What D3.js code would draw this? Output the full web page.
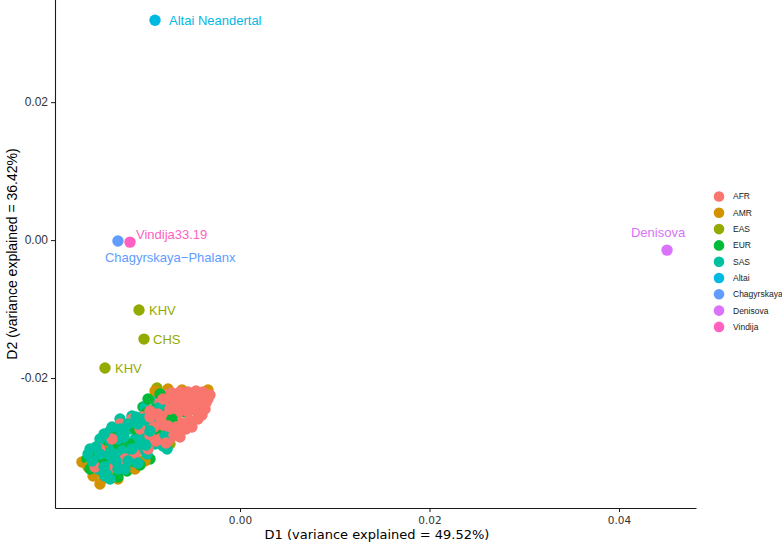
<!DOCTYPE html>
<html>
<head>
  <meta charset="utf-8">
  <title>MDS plot</title>
  <script src="https://d3js.org/d3.v7.min.js"></script>
  <style>
    body { margin: 0; background: #fff; }
    .axis path, .axis line { stroke: #1a1a1a; }
    .label { font-family: "Liberation Sans", Arial, sans-serif; font-size: 13px; }
    .legend text { font-family: "Liberation Sans", Arial, sans-serif; font-size: 8.5px; fill: #1a1a1a; }
  </style>
</head>
<body>
<div id="chart"></div>
<script>
  // groups and colours (ggplot default hues)
  var groups = ["AFR", "AMR", "EAS", "EUR", "SAS", "Altai", "Chagyrskaya", "Denisova", "Vindija"];
  var colors = ["#F8766D", "#D39200", "#93AA00", "#00BA38", "#00C19F", "#00B9E3", "#619CFF", "#DB72FB", "#FF61C3"];

  // axis ticks
  var xTicks = [0, 0.02, 0.04];
  var yTicks = [-0.02, 0, 0.02];

  // modern populations, [D1, D2]
  var afrPoints = [
    [-0.00338,-0.02304],[-0.00391,-0.02203],[-0.00464,-0.02188],[-0.00549,-0.02203],[-0.00633,-0.02203],
    [-0.00718,-0.02217],[-0.00792,-0.02246],[-0.00422,-0.02377],[-0.00507,-0.02333],[-0.00591,-0.02348],
    [-0.00675,-0.02362],[-0.00760,-0.02377],[-0.00844,-0.02348],[-0.00369,-0.02449],[-0.00464,-0.02478],
    [-0.00549,-0.02493],[-0.00654,-0.02507],[-0.00739,-0.02522],[-0.00823,-0.02478],[-0.00443,-0.02594],
    [-0.00528,-0.02623],[-0.00612,-0.02652],[-0.00697,-0.02652],[-0.00781,-0.02623],[-0.00865,-0.02594],
    [-0.00570,-0.02739],[-0.00654,-0.02783],[-0.00739,-0.02768],[-0.00823,-0.02739],[-0.00908,-0.02710],
    [-0.00739,-0.02884],[-0.00844,-0.02884],[-0.00950,-0.02841],[-0.01055,-0.02739],[-0.01140,-0.02594],
    [-0.01266,-0.02667],[-0.01351,-0.02884],[-0.01478,-0.03029],[-0.00971,-0.03029],[-0.01108,-0.03101],
    [-0.01214,-0.03174],[-0.01319,-0.03290],[-0.01530,-0.03290],[-0.00950,-0.02478],[-0.01034,-0.02565],
    [-0.00317,-0.02246],[-0.00359,-0.02362],[-0.00422,-0.02275],[-0.00485,-0.02261],[-0.00570,-0.02275],
    [-0.00654,-0.02275],[-0.00739,-0.02290],[-0.00813,-0.02304],[-0.00401,-0.02536],[-0.00485,-0.02420],
    [-0.00570,-0.02420],[-0.00654,-0.02435],[-0.00739,-0.02449],[-0.00507,-0.02710],[-0.00591,-0.02681],
    [-0.00675,-0.02710],[-0.00760,-0.02696],[-0.00633,-0.02855],[-0.00697,-0.02826],[-0.00781,-0.02942],
    [-0.00887,-0.02913],[-0.00865,-0.02522],[-0.00950,-0.02565]
  ];
  var amrPoints = [
    [-0.00338,-0.02174],[-0.00612,-0.02174],[-0.00760,-0.02159],[-0.00897,-0.02188],[-0.01668,-0.03217],
    [-0.01478,-0.03536],[-0.01551,-0.03420],[-0.01604,-0.03290],[-0.01288,-0.03464],[-0.01108,-0.03319],
    [-0.01003,-0.03203],[-0.01425,-0.03058]
  ];
  var easPoints = [
    [-0.00876,-0.02145],[-0.01435,-0.03449],[-0.01509,-0.03348],[-0.01351,-0.03420],[-0.01594,-0.03203],
    [-0.01203,-0.03319],[-0.01055,-0.03203],[-0.00739,-0.02957]
  ];
  var eurPoints = [
    [-0.00580,-0.02493],[-0.01024,-0.02420],[-0.00897,-0.02449],[-0.01245,-0.02812],[-0.01615,-0.03174],
    [-0.01193,-0.03348],[-0.00950,-0.03174],[-0.00686,-0.02783],[-0.00792,-0.02565],[-0.01108,-0.02594],
    [-0.01372,-0.03029],[-0.01530,-0.03261],[-0.01055,-0.03261],[-0.00844,-0.02884],[-0.01478,-0.02957],
    [-0.01288,-0.03435],[-0.00950,-0.02667],[-0.01161,-0.02957],[-0.01583,-0.03319],[-0.01425,-0.03203],
    [-0.00739,-0.02667],[-0.00971,-0.02304],[-0.00844,-0.02232],[-0.01319,-0.02739],[-0.01003,-0.02884],
    [-0.01214,-0.03101],[-0.01108,-0.02739],[-0.00718,-0.02594],[-0.00865,-0.02826],[-0.00992,-0.02507],
    [-0.01288,-0.02957],[-0.01456,-0.03058],[-0.01161,-0.03203],[-0.01541,-0.03145]
  ];
  var sasPoints = [
    [-0.00929,-0.02304],[-0.01140,-0.02551],[-0.01372,-0.02768],[-0.01425,-0.02913],[-0.00865,-0.02696],
    [-0.00918,-0.02493],[-0.00865,-0.02783],[-0.00813,-0.02986],[-0.00770,-0.03029],[-0.01530,-0.03101],
    [-0.01478,-0.03203],[-0.01393,-0.03319],[-0.01425,-0.03420],[-0.01319,-0.03101],[-0.01214,-0.02957],
    [-0.01108,-0.02884],[-0.01003,-0.02739],[-0.01055,-0.03029],[-0.01266,-0.03203],[-0.01583,-0.03029],
    [-0.01003,-0.02420],[-0.01266,-0.02594],[-0.01340,-0.02986],[-0.01161,-0.02739],[-0.00950,-0.02594],
    [-0.01034,-0.02855],[-0.01182,-0.03101],[-0.01478,-0.02884],[-0.01351,-0.03246],[-0.01108,-0.03217],
    [-0.00897,-0.02957],[-0.00792,-0.02841],[-0.01288,-0.02884],[-0.01214,-0.03319],[-0.01393,-0.03101],
    [-0.01499,-0.03319],[-0.00844,-0.02420],[-0.00982,-0.03101],[-0.01077,-0.02667],[-0.01245,-0.03058],
    [-0.01604,-0.03101],[-0.01520,-0.03000],[-0.01435,-0.02812],[-0.01351,-0.02710],[-0.01266,-0.02739],
    [-0.01182,-0.02667],[-0.01097,-0.02565],[-0.01013,-0.02594],[-0.00950,-0.02768],[-0.01055,-0.02957],
    [-0.01140,-0.03029],[-0.01224,-0.02855],[-0.01309,-0.03203],[-0.01435,-0.03290],[-0.01562,-0.03203],
    [-0.01372,-0.03464],[-0.01182,-0.03203],[-0.00992,-0.02971],[-0.01077,-0.03232],[-0.01288,-0.03319],
    [-0.01478,-0.03101]
  ];

  // labelled archaic / outlier samples
  var sampleNames = ["Altai Neandertal", "Denisova", "Vindija33.19", "Chagyrskaya\u2212Phalanx", "KHV", "CHS", "KHV"];
  var sampleGroups = ["Altai", "Denisova", "Vindija", "Chagyrskaya", "EAS", "EAS", "EAS"];
  var sampleD1 = [-0.00897, 0.04507, -0.01161, -0.01288, -0.01066, -0.01013, -0.01425];
  var sampleD2 = [0.03188, -0.00145, -0.00029, -0.00014, -0.01014, -0.01435, -0.01855];
  // label placement relative to its point (pixels), like ggrepel put them
  var labelDx = [14, -9, 6, -13, 10, 9, 10];
  var labelDy = [0, -18, -8, 16, 0, 0, 0];
  var labelAnchor = ["start", "middle", "start", "start", "start", "start", "start"];

  var width = 782, height = 545;
  var color = d3.scaleOrdinal().domain(groups).range(colors);

  var x = d3.scaleLinear().domain([-0.019525, 0.048127]).range([55, 696]);
  var y = d3.scaleLinear().domain([-0.03884, 0.0351]).range([508, -2]);

  var svg = d3.select("#chart").append("svg")
      .attr("width", width)
      .attr("height", height);

  // interleave the populations so colours mix like the original row order
  var sets = [["AFR", afrPoints], ["AMR", amrPoints], ["EAS", easPoints], ["EUR", eurPoints], ["SAS", sasPoints]];
  var points = [];
  var maxLen = d3.max(sets, function(s) { return s[1].length; });
  for (var i = 0; i < maxLen; i++) {
    sets.forEach(function(s) {
      if (i < s[1].length) points.push({group: s[0], d1: s[1][i][0], d2: s[1][i][1]});
    });
  }
  sampleNames.forEach(function(n, i) {
    points.push({group: sampleGroups[i], d1: sampleD1[i], d2: sampleD2[i]});
  });

  svg.append("g").selectAll("circle")
      .data(points)
      .enter().append("circle")
      .attr("cx", function(d) { return x(d.d1); })
      .attr("cy", function(d) { return y(d.d2); })
      .attr("r", 5.7)
      .attr("fill", function(d) { return color(d.group); });

  // text labels
  svg.append("g").selectAll("text")
      .data(sampleNames)
      .enter().append("text")
      .attr("class", "label")
      .attr("x", function(d, i) { return x(sampleD1[i]) + labelDx[i]; })
      .attr("y", function(d, i) { return y(sampleD2[i]) + labelDy[i]; })
      .attr("dy", "0.35em")
      .attr("text-anchor", function(d, i) { return labelAnchor[i]; })
      .attr("fill", function(d, i) { return color(sampleGroups[i]); })
      .text(function(d) { return d; });

  // axes
  var xAxis = svg.append("g")
      .attr("class", "axis")
      .attr("transform", "translate(0,508)")
      .call(d3.axisBottom(x).tickValues(xTicks).tickFormat(d3.format(".2f")).tickSize(4).tickSizeOuter(0));
  xAxis.select(".domain").attr("stroke-width", 1.1);
  xAxis.selectAll(".tick line").attr("stroke", "#333");
  xAxis.selectAll("text")
      .attr("font-family", "DejaVu Sans, Verdana, sans-serif")
      .attr("font-size", "10.5px")
      .attr("fill", "#333")
      .attr("dy", "0.9em");

  var yAxis = svg.append("g")
      .attr("class", "axis")
      .attr("transform", "translate(55,0)")
      .call(d3.axisLeft(y).tickValues(yTicks).tickFormat(d3.format(".2f")).tickSize(4).tickSizeOuter(0));
  yAxis.select(".domain").attr("stroke-width", 1.1);
  yAxis.selectAll(".tick line").attr("stroke", "#333");
  yAxis.selectAll("text")
      .attr("font-family", "Liberation Sans, Arial, sans-serif")
      .attr("font-size", "12px")
      .attr("fill", "#333")
      .text(function(d) { return d3.format(".2f")(d).replace("\u2212", "-"); });

  // axis titles
  svg.append("text")
      .attr("x", 377)
      .attr("y", 539)
      .attr("text-anchor", "middle")
      .attr("font-family", "DejaVu Sans, Verdana, sans-serif")
      .attr("font-size", "13px")
      .text("D1 (variance explained = 49.52%)");

  svg.append("text")
      .attr("transform", "translate(17,254) rotate(-90)")
      .attr("text-anchor", "middle")
      .attr("font-family", "Liberation Sans, Arial, sans-serif")
      .attr("font-size", "14px")
      .text("D2 (variance explained = 36.42%)");

  // legend
  var legend = svg.append("g").attr("class", "legend");
  var item = legend.selectAll("g")
      .data(groups)
      .enter().append("g")
      .attr("transform", function(d, i) { return "translate(719," + (196.5 + i * 16.3) + ")"; });
  item.append("circle")
      .attr("r", 5.3)
      .attr("fill", function(d) { return color(d); });
  item.append("text")
      .attr("x", 14)
      .attr("dy", "0.35em")
      .text(function(d) { return d; });
</script>
</body>
</html>
